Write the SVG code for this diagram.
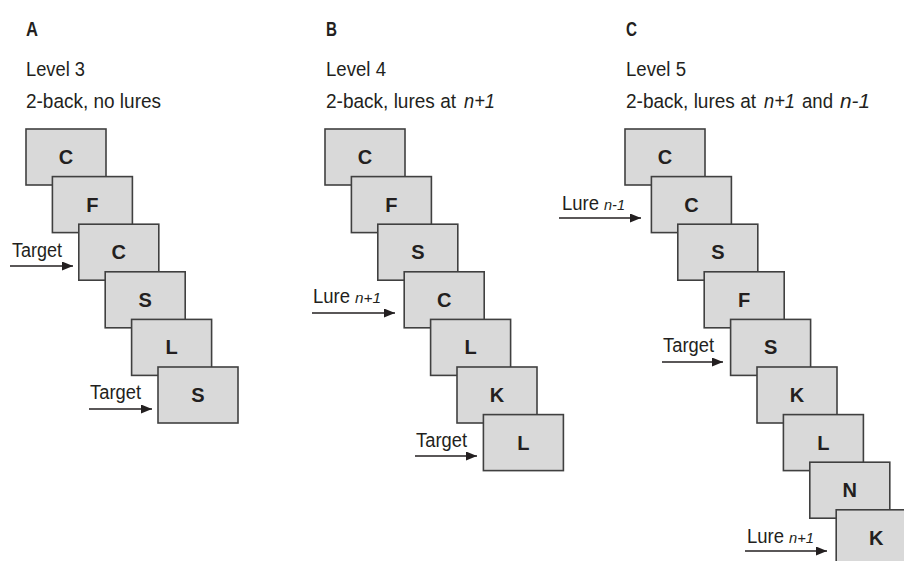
<svg xmlns="http://www.w3.org/2000/svg" width="904" height="561" viewBox="0 0 904 561">
  <style>
    .head { font-family: "Liberation Sans", Arial, sans-serif; font-weight: bold; font-size: 20px; fill: #231f20; }
    .sub { font-family: "Liberation Sans", Arial, sans-serif; font-size: 20.5px; fill: #231f20; }
    .lbl { font-family: "Liberation Sans", Arial, sans-serif; font-size: 19.5px; fill: #231f20; }
    .it { font-style: italic; font-size: 20px; }
    .sm { font-family: "Liberation Sans", Arial, sans-serif; font-style: italic; font-size: 15px; fill: #231f20; }
    .box rect { fill: #d9d9d9; stroke: #404040; stroke-width: 1.6; }
    .box text { font-family: "Liberation Sans", Arial, sans-serif; font-weight: bold; font-size: 20px; fill: #231f20; text-anchor: middle; }
    .conn line { stroke: #231f20; stroke-width: 1.5; marker-end: url(#head); }
  </style>
  <defs>
    <marker id="head" markerUnits="userSpaceOnUse" markerWidth="12" markerHeight="10" refX="11" refY="4.5" orient="auto">
      <path d="M0,0 L11,4.5 L0,9 Z" fill="#231f20"/>
    </marker>
  </defs>
  <rect width="904" height="561" fill="#ffffff"/>

  <!-- Panel headers -->
  <g id="header-a">
    <text class="head" x="26" y="36" textLength="12" lengthAdjust="spacingAndGlyphs">A</text>
    <text class="sub" x="26" y="76" textLength="59" lengthAdjust="spacingAndGlyphs">Level 3</text>
    <text class="sub" x="26" y="108" textLength="135" lengthAdjust="spacingAndGlyphs">2-back, no lures</text>
  </g>
  <g id="header-b">
    <text class="head" x="326" y="36" textLength="11" lengthAdjust="spacingAndGlyphs">B</text>
    <text class="sub" x="326" y="76" textLength="60" lengthAdjust="spacingAndGlyphs">Level 4</text>
    <text class="sub" x="326" y="108" textLength="130" lengthAdjust="spacingAndGlyphs">2-back, lures at</text>
    <text class="sub it" x="464" y="108" textLength="31" lengthAdjust="spacingAndGlyphs">n+1</text>
  </g>
  <g id="header-c">
    <text class="head" x="626" y="36" textLength="11" lengthAdjust="spacingAndGlyphs">C</text>
    <text class="sub" x="626" y="76" textLength="60" lengthAdjust="spacingAndGlyphs">Level 5</text>
    <text class="sub" x="626" y="108" textLength="130" lengthAdjust="spacingAndGlyphs">2-back, lures at</text>
    <text class="sub it" x="764" y="108" textLength="31" lengthAdjust="spacingAndGlyphs">n+1</text>
    <text class="sub" x="802" y="108" textLength="31" lengthAdjust="spacingAndGlyphs">and</text>
    <text class="sub it" x="840" y="108" textLength="30" lengthAdjust="spacingAndGlyphs">n-1</text>
  </g>

  <!-- Panel A sequence -->
  <g id="a1" class="box"><rect x="26" y="129" width="80" height="56"/><text x="66" y="164">C</text></g>
  <g id="a2" class="box"><rect x="52.4" y="176.6" width="80" height="56"/><text x="92.4" y="211.6">F</text></g>
  <g id="a3" class="box"><rect x="78.8" y="224.2" width="80" height="56"/><text x="118.8" y="259.2">C</text></g>
  <g id="a4" class="box"><rect x="105.2" y="271.8" width="80" height="56"/><text x="145.2" y="306.8">S</text></g>
  <g id="a5" class="box"><rect x="131.6" y="319.4" width="80" height="56"/><text x="171.6" y="354.4">L</text></g>
  <g id="a6" class="box"><rect x="158" y="367" width="80" height="56"/><text x="198" y="402">S</text></g>

  <!-- Panel B sequence -->
  <g id="b1" class="box"><rect x="325" y="129" width="80" height="56"/><text x="365" y="164">C</text></g>
  <g id="b2" class="box"><rect x="351.4" y="176.6" width="80" height="56"/><text x="391.4" y="211.6">F</text></g>
  <g id="b3" class="box"><rect x="377.8" y="224.2" width="80" height="56"/><text x="417.8" y="259.2">S</text></g>
  <g id="b4" class="box"><rect x="404.2" y="271.8" width="80" height="56"/><text x="444.2" y="306.8">C</text></g>
  <g id="b5" class="box"><rect x="430.6" y="319.4" width="80" height="56"/><text x="470.6" y="354.4">L</text></g>
  <g id="b6" class="box"><rect x="457" y="367" width="80" height="56"/><text x="497" y="402">K</text></g>
  <g id="b7" class="box"><rect x="483.4" y="414.6" width="80" height="56"/><text x="523.4" y="449.6">L</text></g>

  <!-- Panel C sequence -->
  <g id="c1" class="box"><rect x="625" y="129" width="80" height="56"/><text x="665" y="164">C</text></g>
  <g id="c2" class="box"><rect x="651.4" y="176.6" width="80" height="56"/><text x="691.4" y="211.6">C</text></g>
  <g id="c3" class="box"><rect x="677.8" y="224.2" width="80" height="56"/><text x="717.8" y="259.2">S</text></g>
  <g id="c4" class="box"><rect x="704.2" y="271.8" width="80" height="56"/><text x="744.2" y="306.8">F</text></g>
  <g id="c5" class="box"><rect x="730.6" y="319.4" width="80" height="56"/><text x="770.6" y="354.4">S</text></g>
  <g id="c6" class="box"><rect x="757" y="367" width="80" height="56"/><text x="797" y="402">K</text></g>
  <g id="c7" class="box"><rect x="783.4" y="414.6" width="80" height="56"/><text x="823.4" y="449.6">L</text></g>
  <g id="c8" class="box"><rect x="809.8" y="462.2" width="80" height="56"/><text x="849.8" y="497.2">N</text></g>
  <g id="c9" class="box"><rect x="836.2" y="509.8" width="80" height="56"/><text x="876.2" y="544.8">K</text></g>

  <!-- Pointer arrows -->
  <g id="connectors" class="conn">
    <line x1="10" y1="266" x2="73" y2="266"/>
    <line x1="89" y1="409" x2="152" y2="409"/>
    <line x1="312" y1="313" x2="395" y2="313"/>
    <line x1="415" y1="456" x2="477" y2="456"/>
    <line x1="559" y1="218" x2="641" y2="218"/>
    <line x1="662" y1="362" x2="723" y2="362"/>
    <line x1="745" y1="551" x2="827" y2="551"/>
  </g>

  <!-- Arrow labels -->
  <g id="labels">
    <text class="lbl" x="12" y="257" textLength="50" lengthAdjust="spacingAndGlyphs">Target</text>
    <text class="lbl" x="90" y="399" textLength="51" lengthAdjust="spacingAndGlyphs">Target</text>
    <text class="lbl" x="313" y="303" textLength="37" lengthAdjust="spacingAndGlyphs">Lure</text>
    <text class="sm" x="355" y="303" textLength="26" lengthAdjust="spacingAndGlyphs">n+1</text>
    <text class="lbl" x="416" y="447" textLength="51" lengthAdjust="spacingAndGlyphs">Target</text>
    <text class="lbl" x="562" y="210" textLength="37" lengthAdjust="spacingAndGlyphs">Lure</text>
    <text class="sm" x="604" y="210" textLength="21" lengthAdjust="spacingAndGlyphs">n-1</text>
    <text class="lbl" x="663" y="352" textLength="51" lengthAdjust="spacingAndGlyphs">Target</text>
    <text class="lbl" x="747" y="543" textLength="37" lengthAdjust="spacingAndGlyphs">Lure</text>
    <text class="sm" x="789" y="543" textLength="25" lengthAdjust="spacingAndGlyphs">n+1</text>
  </g>
</svg>
